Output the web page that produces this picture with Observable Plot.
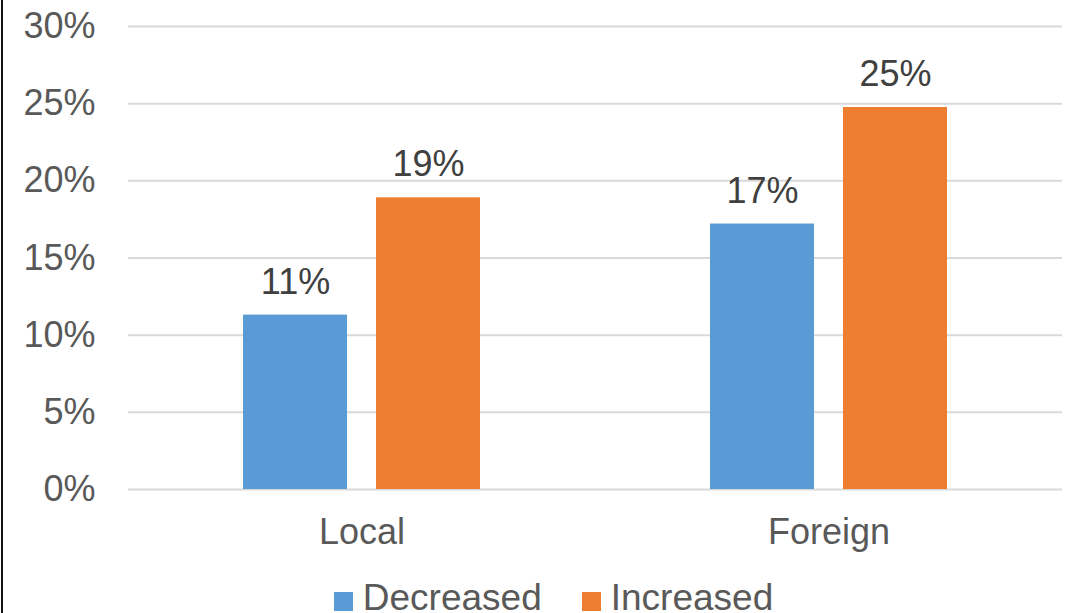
<!DOCTYPE html>
<html>
<head>
<meta charset="utf-8">
<script src="https://cdn.jsdelivr.net/npm/d3@7"></script>
<script src="https://cdn.jsdelivr.net/npm/@observablehq/plot@0.6"></script>
<style>
  html, body { margin: 0; padding: 0; background: #fff; overflow: hidden; }
  #wrap { position: relative; width: 1069px; height: 613px; box-sizing: border-box; }
  #border { position: absolute; left: 1px; top: 0; width: 2px; height: 613px; background: #111; }
  #chart { position: absolute; left: 0; top: 0; }
  #legend { position: absolute; left: 19px; top: 578px; width: 1069px; display: flex; justify-content: center; gap: 0;
    font-family: "Liberation Sans", Arial, sans-serif; font-size: 37px; color: #595959; line-height: 40px; }
  .item { display: flex; align-items: center; margin: 0 20px; }
  .sw { width: 19px; height: 19px; margin-right: 10px; margin-top: 6px; }
</style>
</head>
<body>
<div id="wrap">
  <div id="chart"></div>
  <div id="legend"></div>
  <div id="border"></div>
</div>
<script>
const groups = ["Local", "Foreign"];
const series = ["Decreased", "Increased"];
const decreased = [11.3, 17.2];
const increased = [18.9, 24.75];
const colors = ["#5B9BD5", "#ED7D31"];
const yTicks = [0, 5, 10, 15, 20, 25, 30];

const decData = groups.map((g, i) => ({group: g, value: decreased[i], label: Math.round(decreased[i]) + "%"}));
const incData = groups.map((g, i) => ({group: g, value: increased[i], label: Math.round(increased[i]) + "%"}));

const font = "Liberation Sans, Arial, sans-serif";

const chart = Plot.plot({
  width: 1069,
  height: 572,
  marginLeft: 128,
  marginRight: 7,
  marginTop: 26,
  marginBottom: 83,
  style: {fontFamily: font, fontSize: "36px", color: "#595959", background: "transparent"},
  x: {domain: groups, paddingInner: 0.4925, paddingOuter: 0.2462, axis: null, label: null},
  y: {domain: [0, 30], axis: null, label: null},
  marks: [
    Plot.ruleY(yTicks, {stroke: "#d9d9d9", strokeWidth: 2}),
    Plot.barY(decData, {x: "group", y: "value", fill: colors[0], insetRight: 133, insetLeft: 0}),
    Plot.barY(incData, {x: "group", y: "value", fill: colors[1], insetLeft: 133, insetRight: 0}),
    Plot.text(decData, {x: "group", y: "value", text: "label", dx: -66.5, dy: -33, fill: "#404040", fontSize: 36}),
    Plot.text(incData, {x: "group", y: "value", text: "label", dx: 66.5, dy: -33, fill: "#404040", fontSize: 36}),
    Plot.axisY({ticks: yTicks, tickFormat: d => d + "%", tickSize: 0, tickPadding: 33, fontSize: 36, fill: "#595959", label: null}),
    Plot.axisX({tickSize: 0, tickPadding: 29, fontSize: 36, fill: "#595959", label: null})
  ]
});
document.getElementById("chart").appendChild(chart);

const legend = document.getElementById("legend");
series.forEach((s, i) => {
  const item = document.createElement("div");
  item.className = "item";
  const sw = document.createElement("div");
  sw.className = "sw";
  sw.style.background = colors[i];
  const t = document.createElement("span");
  t.textContent = s;
  item.appendChild(sw);
  item.appendChild(t);
  legend.appendChild(item);
});
</script>
</body>
</html>
